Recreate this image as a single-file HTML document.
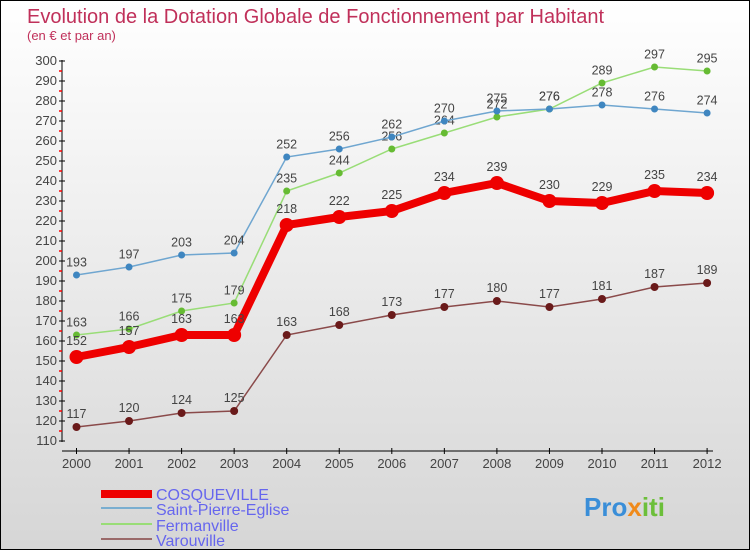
<!DOCTYPE html>
<html><head><meta charset="utf-8"><style>
body{margin:0}
#c{width:748px;height:548px;border:1px solid #000;background:linear-gradient(#fff,#d6d6d6);position:relative;font-family:"Liberation Sans",sans-serif;overflow:hidden}
</style></head><body>
<div id="c">
<svg id="s" width="748" height="548" style="position:absolute;left:0;top:0" font-family="Liberation Sans, sans-serif">
<text x="26" y="22" font-size="20" fill="#c0305a">Evolution de la Dotation Globale de Fonctionnement par Habitant</text>
<text x="26" y="39" font-size="13" fill="#c0305a">(en € et par an)</text>
<g id="axes"></g><g id="series"></g>
<g>
<rect x="100" y="489" width="51" height="8" fill="#e00"/>
<text x="155" y="499" font-size="16" fill="#6666ee">COSQUEVILLE</text>
<rect x="100" y="506" width="51" height="2" fill="#7aaed0"/>
<text x="155" y="514" font-size="16" fill="#6666ee">Saint-Pierre-Eglise</text>
<rect x="100" y="522" width="51" height="2" fill="#99dd77"/>
<text x="155" y="530" font-size="16" fill="#6666ee">Fermanville</text>
<rect x="100" y="537" width="51" height="2" fill="#9a6a6a"/>
<text x="155" y="545" font-size="16" fill="#6666ee">Varouville</text>
</g>
<text x="583" y="515" font-size="26" font-weight="bold"><tspan fill="#3a8ed8">Pro</tspan><tspan fill="#f08a1a">x</tspan><tspan fill="#6cbf3a">iti</tspan></text>
</svg>
</div>
<script>
const years=[2000,2001,2002,2003,2004,2005,2006,2007,2008,2009,2010,2011,2012];
const cosq=[152,157,163,163,218,222,225,234,239,230,229,235,234];
const spe=[193,197,203,204,252,256,262,270,275,276,278,276,274];
const ferm=[163,166,175,179,235,244,256,264,272,276,289,297,295];
const varo=[117,120,124,125,163,168,173,177,180,177,181,187,189];
const yTicks=[110,120,130,140,150,160,170,180,190,200,210,220,230,240,250,260,270,280,290,300];
const NS="http://www.w3.org/2000/svg";
const X=i=>75.5+i*52.55, Y=v=>60+(300-v)*2;
function mk(p,t,a){const e=document.createElementNS(NS,t);for(const k in a)e.setAttribute(k,a[k]);p.appendChild(e);return e;}
const ax=document.getElementById('axes'),sg=document.getElementById('series');
let yl=mk(ax,'line',{x1:61,y1:59,x2:61,y2:441,stroke:'#000'});


yTicks.forEach(v=>{mk(ax,'line',{x1:58,y1:Y(v),x2:64,y2:Y(v),stroke:'#000'});
 if(v<300)mk(ax,'line',{x1:58,y1:Y(v+5),x2:61,y2:Y(v+5),stroke:'#f00','stroke-width':1.5});
 const t=mk(ax,'text',{x:56,y:Y(v)+4,'font-size':13,fill:'#444','text-anchor':'end'});t.textContent=v;
 
 });
let xl=mk(ax,'line',{x1:61,y1:450,x2:712,y2:450,stroke:'#000'});


years.forEach((y,i)=>{mk(ax,'line',{x1:X(i),y1:447,x2:X(i),y2:453,stroke:'#000'});
 const t=mk(ax,'text',{x:X(i),y:467,'font-size':13,fill:'#444','text-anchor':'middle'});t.textContent=y;
 
 });
function series(d,col,dot,w,r,name){
 const g=mk(sg,'g',{});
 
 
 mk(g,'polyline',{points:d.map((v,i)=>X(i)+','+Y(v)).join(' '),fill:'none',stroke:col,'stroke-width':w});
 d.forEach((v,i)=>{const c=mk(g,'circle',{cx:X(i),cy:Y(v),r:r,fill:dot});
  
  
  const t=mk(g,'text',{x:X(i),y:Y(v)-(r+5),'font-size':12.5,fill:'#444','text-anchor':'middle'});t.textContent=v;
  
  });
}
series(varo,'#8a4a4a','#6a1a1a',1.5,4,'varouville');
series(ferm,'#99dd77','#66bb33',1.5,3.5,'fermanville');
series(spe,'#6fa6d0','#3f86c0',1.5,3.5,'saint-pierre');
series(cosq,'#e00','#e00',8,7,'cosqueville');
</script>
</body></html>
